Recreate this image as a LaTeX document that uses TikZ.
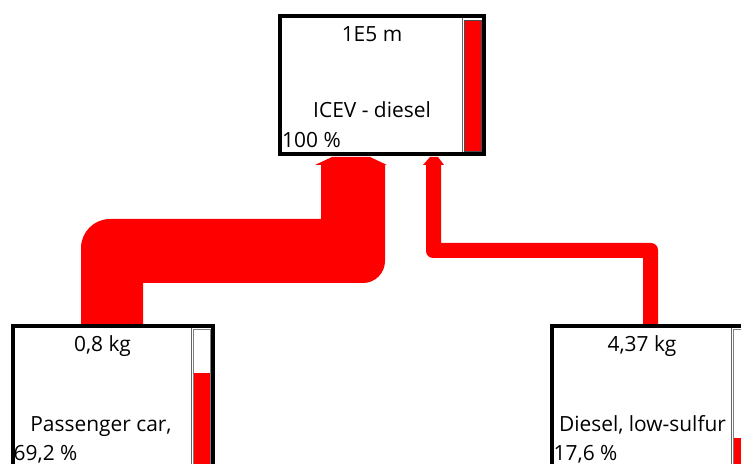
\documentclass[tikz,border=0pt]{standalone}
\usepackage{fontspec}
\setmainfont{Open Sans}
\begin{document}
\begin{tikzpicture}[x=1bp,y=1bp,
  flow/.style={fill=red},
  boxframe/.style={draw=black,line width=4bp},
  sep/.style={draw=black!60,line width=0.8bp},
  barred/.style={fill=red,draw=black!70,line width=0.6bp},
  barwhite/.style={fill=white,draw=black!50,line width=0.6bp},
  lbl/.style={anchor=base,inner sep=0pt,font=\fontsize{21}{24}\selectfont},
  lblleft/.style={lbl,anchor=base west}]
\useasboundingbox (0,0) rectangle (741,-464);
\clip (0,0) rectangle (741,-464);
% flows
\fill[flow] (81,-324) -- (81,-248) arc[start angle=180,end angle=90,radius=29]
  -- (321,-219) -- (321,-165) -- (315,-165) -- (332,-157) -- (370,-157) -- (387,-165)
  -- (385,-165) -- (385,-261) arc[start angle=0,end angle=-90,radius=22]
  -- (143,-283) -- (143,-324) -- cycle;
\fill[flow] (426,-165) -- (426,-251) arc[start angle=180,end angle=270,radius=7]
  -- (643,-258) -- (643,-324) -- (658,-324) -- (658,-250) arc[start angle=0,end angle=90,radius=7]
  -- (441,-243) -- (441,-165) -- (444,-165) -- (438,-157) -- (430,-157) -- (423,-165) -- cycle;
% top box
\draw[boxframe] (280,-16) rectangle (484,-154);
\draw[sep] (462,-18) -- (462,-152);
\draw[barred] (464.5,-20) rectangle (481.5,-151.5);
\node[lbl] (t1) at (372,-42) {1E5 m};
\node[lbl] (t2) at (372,-118) {ICEV - diesel};
\node[lblleft] (t3) at (282,-148) {100 \%};
% bottom left box
\draw[boxframe] (13,-326) rectangle (213,-470);
\draw[sep] (191,-328) -- (191,-466);
\draw[barwhite] (193.5,-329) rectangle (210.5,-466);
\fill[red] (193.8,-373) rectangle (210.2,-466);
\node[lbl] (l1) at (102.5,-352) {0,8 kg};
\node[lbl] (l2) at (101,-431) {Passenger car,};
\node[lblleft] (l3) at (13.5,-460) {69,2 \%};
% bottom right box
\draw[boxframe] (552,-326) rectangle (752,-470);
\draw[sep] (731,-328) -- (731,-466);
\draw[barwhite] (733.5,-329) rectangle (750.5,-466);
\fill[red] (733.8,-438) rectangle (750.2,-466);
\node[lbl] (r1) at (642,-352) {4,37 kg};
\node[lbl] (r2) at (642.5,-431) {Diesel, low-sulfur};
\node[lblleft] (r3) at (553.5,-460) {17,6 \%};
\end{tikzpicture}
\end{document}
